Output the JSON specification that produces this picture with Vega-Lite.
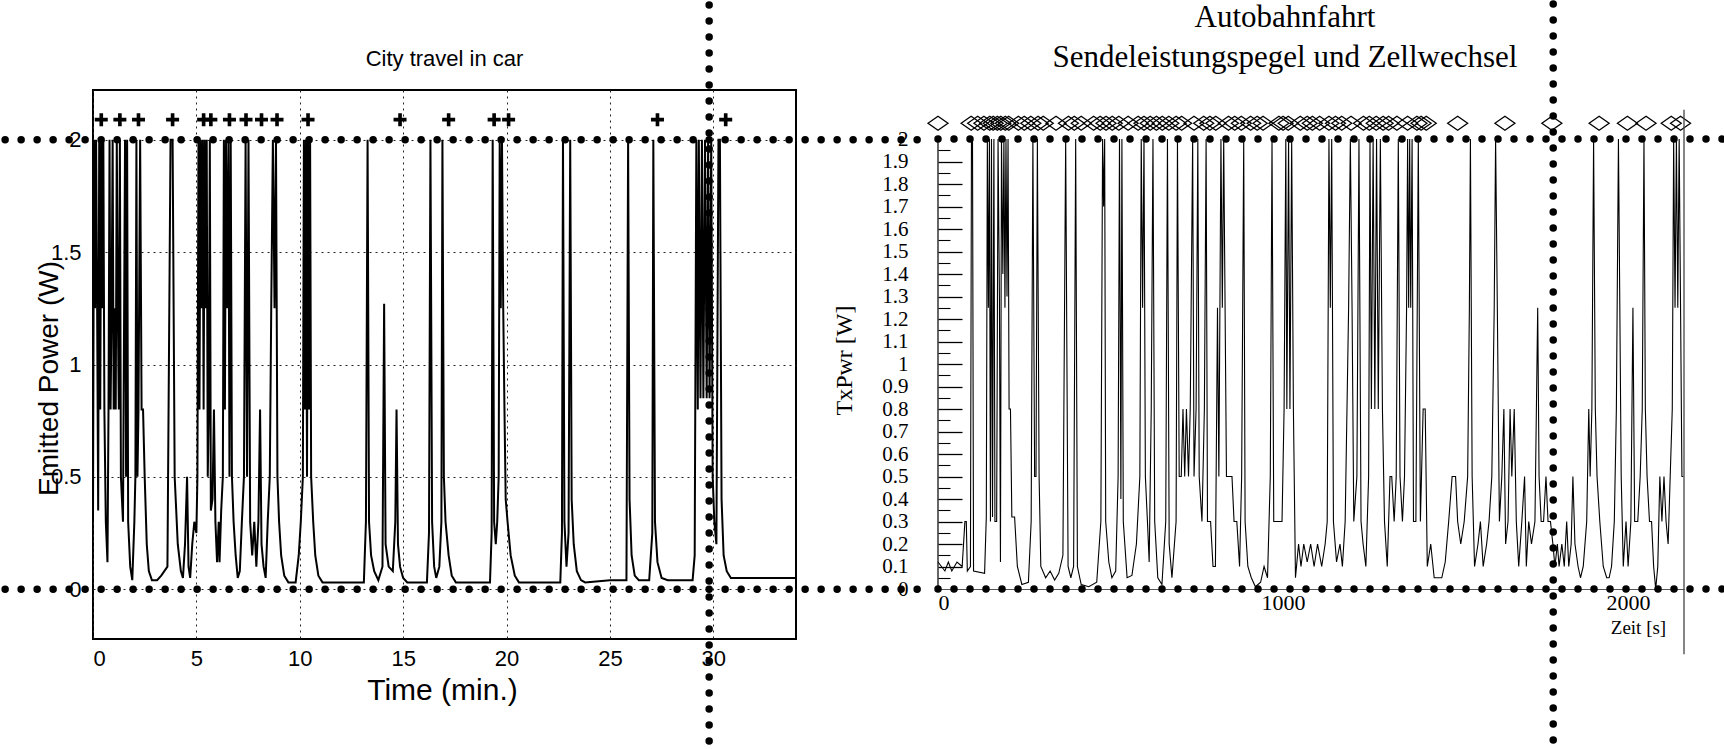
{
  "$schema": "https://vega.github.io/schema/vega-lite/v6.json",
  "padding": 0,
  "background": "white",
  "bounds": "flush",
  "spacing": 142,
  "config": {"view": {"stroke": null}, "font": "Liberation Sans"},
  "datasets": {
    "city": [
      {"t":0,"p":0.3},{"t":0.05,"p":2},{"t":0.1,"p":1.25},{"t":0.15,"p":2},{"t":0.2,"p":1.25},{"t":0.25,"p":0.35},{"t":0.3,"p":2},{"t":0.35,"p":0.8},{"t":0.4,"p":2},{"t":0.45,"p":1.25},{"t":0.5,"p":2},{"t":0.55,"p":0.8},{"t":0.62,"p":0.3},{"t":0.7,"p":0.12},{"t":0.75,"p":0.8},{"t":0.8,"p":2},{"t":0.85,"p":0.8},{"t":0.9,"p":1.25},{"t":0.95,"p":2},{"t":1.0,"p":0.8},{"t":1.05,"p":1.25},{"t":1.1,"p":0.8},{"t":1.15,"p":2},{"t":1.2,"p":1.25},{"t":1.25,"p":0.8},{"t":1.3,"p":2},{"t":1.35,"p":0.5},{"t":1.45,"p":0.3},{"t":1.55,"p":2},{"t":1.6,"p":0.5},{"t":1.65,"p":2},{"t":1.7,"p":0.3},{"t":1.8,"p":0.1},{"t":1.9,"p":0.04},{"t":2.0,"p":0.3},{"t":2.05,"p":0.5},{"t":2.1,"p":2},{"t":2.15,"p":0.5},{"t":2.2,"p":0.8},{"t":2.28,"p":2},{"t":2.35,"p":0.8},{"t":2.42,"p":0.8},{"t":2.5,"p":0.5},{"t":2.6,"p":0.2},{"t":2.7,"p":0.08},{"t":2.85,"p":0.04},{"t":3.1,"p":0.04},{"t":3.3,"p":0.06},{"t":3.6,"p":0.1},{"t":3.75,"p":2},{"t":3.85,"p":2},{"t":3.95,"p":0.5},{"t":4.1,"p":0.2},{"t":4.25,"p":0.08},{"t":4.35,"p":0.05},{"t":4.45,"p":0.2},{"t":4.55,"p":0.5},{"t":4.62,"p":0.1},{"t":4.7,"p":0.05},{"t":4.8,"p":0.2},{"t":4.9,"p":0.3},{"t":5.0,"p":0.25},{"t":5.05,"p":0.5},{"t":5.1,"p":2},{"t":5.15,"p":0.8},{"t":5.2,"p":2},{"t":5.25,"p":1.25},{"t":5.3,"p":2},{"t":5.35,"p":0.8},{"t":5.4,"p":2},{"t":5.45,"p":1.25},{"t":5.5,"p":2},{"t":5.55,"p":0.5},{"t":5.6,"p":0.8},{"t":5.65,"p":2},{"t":5.7,"p":0.35},{"t":5.78,"p":0.4},{"t":5.85,"p":0.8},{"t":5.92,"p":0.3},{"t":6.0,"p":0.12},{"t":6.08,"p":0.3},{"t":6.12,"p":0.12},{"t":6.2,"p":0.35},{"t":6.28,"p":0.5},{"t":6.33,"p":2},{"t":6.38,"p":0.8},{"t":6.43,"p":2},{"t":6.48,"p":1.25},{"t":6.55,"p":2},{"t":6.6,"p":0.5},{"t":6.66,"p":2},{"t":6.72,"p":0.5},{"t":6.8,"p":0.3},{"t":6.9,"p":0.15},{"t":7.0,"p":0.05},{"t":7.1,"p":0.08},{"t":7.2,"p":0.3},{"t":7.3,"p":0.5},{"t":7.38,"p":2},{"t":7.45,"p":0.5},{"t":7.52,"p":2},{"t":7.6,"p":0.3},{"t":7.7,"p":0.15},{"t":7.8,"p":0.3},{"t":7.9,"p":0.1},{"t":8.0,"p":0.3},{"t":8.08,"p":0.8},{"t":8.15,"p":0.2},{"t":8.25,"p":0.1},{"t":8.35,"p":0.05},{"t":8.45,"p":0.3},{"t":8.55,"p":0.5},{"t":8.62,"p":1.25},{"t":8.7,"p":2},{"t":8.78,"p":1.25},{"t":8.85,"p":2},{"t":8.92,"p":0.5},{"t":9.0,"p":0.3},{"t":9.1,"p":0.15},{"t":9.25,"p":0.06},{"t":9.45,"p":0.03},{"t":9.8,"p":0.03},{"t":9.95,"p":0.15},{"t":10.05,"p":0.3},{"t":10.15,"p":0.5},{"t":10.2,"p":2},{"t":10.25,"p":0.8},{"t":10.3,"p":2},{"t":10.35,"p":0.5},{"t":10.4,"p":2},{"t":10.45,"p":0.8},{"t":10.5,"p":2},{"t":10.55,"p":0.5},{"t":10.65,"p":0.3},{"t":10.75,"p":0.15},{"t":10.9,"p":0.06},{"t":11.1,"p":0.03},{"t":13.1,"p":0.03},{"t":13.2,"p":0.3},{"t":13.28,"p":2},{"t":13.35,"p":0.3},{"t":13.45,"p":0.15},{"t":13.6,"p":0.08},{"t":13.8,"p":0.04},{"t":14.0,"p":0.1},{"t":14.08,"p":1.27},{"t":14.15,"p":0.2},{"t":14.3,"p":0.1},{"t":14.5,"p":0.08},{"t":14.62,"p":0.3},{"t":14.68,"p":0.8},{"t":14.75,"p":0.2},{"t":14.85,"p":0.1},{"t":15.0,"p":0.05},{"t":15.2,"p":0.03},{"t":16.15,"p":0.03},{"t":16.25,"p":0.25},{"t":16.32,"p":2},{"t":16.4,"p":0.3},{"t":16.5,"p":0.1},{"t":16.6,"p":0.05},{"t":16.75,"p":0.1},{"t":16.85,"p":0.3},{"t":16.9,"p":2},{"t":16.97,"p":0.5},{"t":17.05,"p":0.3},{"t":17.2,"p":0.15},{"t":17.35,"p":0.06},{"t":17.55,"p":0.03},{"t":19.2,"p":0.03},{"t":19.28,"p":0.25},{"t":19.33,"p":2},{"t":19.4,"p":0.3},{"t":19.48,"p":0.2},{"t":19.55,"p":0.3},{"t":19.62,"p":0.5},{"t":19.67,"p":2},{"t":19.72,"p":1.25},{"t":19.78,"p":2},{"t":19.84,"p":1.25},{"t":19.9,"p":0.8},{"t":19.96,"p":0.4},{"t":20.05,"p":0.3},{"t":20.2,"p":0.15},{"t":20.4,"p":0.06},{"t":20.6,"p":0.03},{"t":22.6,"p":0.03},{"t":22.68,"p":0.25},{"t":22.73,"p":2},{"t":22.8,"p":0.3},{"t":22.9,"p":0.1},{"t":23.0,"p":0.25},{"t":23.08,"p":2},{"t":23.15,"p":0.4},{"t":23.25,"p":0.2},{"t":23.4,"p":0.08},{"t":23.6,"p":0.04},{"t":23.8,"p":0.03},{"t":25.0,"p":0.04},{"t":25.8,"p":0.04},{"t":25.88,"p":2},{"t":25.95,"p":0.4},{"t":26.05,"p":0.15},{"t":26.2,"p":0.06},{"t":26.4,"p":0.04},{"t":26.9,"p":0.04},{"t":27.05,"p":0.25},{"t":27.1,"p":2},{"t":27.18,"p":0.3},{"t":27.3,"p":0.12},{"t":27.5,"p":0.05},{"t":27.8,"p":0.04},{"t":29.0,"p":0.04},{"t":29.1,"p":0.15},{"t":29.18,"p":2},{"t":29.25,"p":0.8},{"t":29.3,"p":2},{"t":29.38,"p":0.85},{"t":29.45,"p":2},{"t":29.52,"p":0.85},{"t":29.6,"p":2},{"t":29.68,"p":0.85},{"t":29.75,"p":2},{"t":29.82,"p":0.85},{"t":29.9,"p":2},{"t":29.97,"p":0.5},{"t":30.05,"p":0.3},{"t":30.15,"p":0.2},{"t":30.25,"p":2},{"t":30.32,"p":2},{"t":30.4,"p":0.4},{"t":30.5,"p":0.15},{"t":30.65,"p":0.08},{"t":30.85,"p":0.05},{"t":31.2,"p":0.05},{"t":34,"p":0.05}
    ],
    "cityHandover": [
      {"t":0.4,"p":2.09},{"t":1.3,"p":2.09},{"t":2.2,"p":2.09},{"t":3.85,"p":2.09},{"t":5.35,"p":2.09},{"t":5.7,"p":2.09},{"t":6.6,"p":2.09},{"t":7.4,"p":2.09},{"t":8.15,"p":2.09},{"t":8.9,"p":2.09},{"t":10.4,"p":2.09},{"t":14.85,"p":2.09},{"t":17.2,"p":2.09},{"t":19.4,"p":2.09},{"t":20.1,"p":2.09},{"t":27.3,"p":2.09},{"t":30.6,"p":2.09}
    ],
    "cityGuidesH": [{"level":2,"from":-4.25,"to":40.0},{"level":0,"from":-4.25,"to":40.0}],
    "cityGuidesV": [{"t":29.8,"top":2.6,"bottom":-0.69}],
    "autobahn": [
      {"s":0,"p":0.12},{"s":20,"p":0.08},{"s":30,"p":0.12},{"s":40,"p":0.08},{"s":55,"p":0.12},{"s":70,"p":0.1},{"s":78,"p":0.3},{"s":82,"p":0.3},{"s":85,"p":0.08},{"s":94,"p":0.1},{"s":97,"p":2},{"s":100,"p":2},{"s":103,"p":0.08},{"s":135,"p":0.07},{"s":140,"p":0.32},{"s":143,"p":2},{"s":146,"p":1.25},{"s":149,"p":2},{"s":152,"p":0.3},{"s":155,"p":2},{"s":158,"p":0.32},{"s":162,"p":2},{"s":165,"p":0.3},{"s":170,"p":0.3},{"s":174,"p":2},{"s":178,"p":1.3},{"s":181,"p":0.12},{"s":184,"p":2},{"s":188,"p":1.4},{"s":191,"p":2},{"s":194,"p":1.25},{"s":197,"p":2},{"s":200,"p":1.3},{"s":203,"p":2},{"s":206,"p":0.8},{"s":210,"p":0.8},{"s":214,"p":0.32},{"s":222,"p":0.32},{"s":230,"p":0.1},{"s":243,"p":0.02},{"s":262,"p":0.03},{"s":270,"p":0.3},{"s":275,"p":2},{"s":280,"p":0.5},{"s":284,"p":0.5},{"s":288,"p":2},{"s":293,"p":0.5},{"s":298,"p":0.1},{"s":312,"p":0.05},{"s":325,"p":0.08},{"s":338,"p":0.04},{"s":350,"p":0.07},{"s":362,"p":0.15},{"s":370,"p":2},{"s":377,"p":0.1},{"s":385,"p":0.05},{"s":393,"p":0.1},{"s":399,"p":2},{"s":404,"p":0.1},{"s":415,"p":0.02},{"s":437,"p":0.01},{"s":460,"p":0.03},{"s":472,"p":0.3},{"s":477,"p":2},{"s":480,"p":1.7},{"s":483,"p":2},{"s":486,"p":0.3},{"s":495,"p":0.12},{"s":504,"p":0.05},{"s":515,"p":0.08},{"s":522,"p":0.5},{"s":526,"p":2},{"s":530,"p":0.4},{"s":533,"p":2},{"s":537,"p":0.3},{"s":548,"p":0.05},{"s":562,"p":0.06},{"s":575,"p":0.2},{"s":585,"p":0.5},{"s":589,"p":2},{"s":593,"p":1.25},{"s":597,"p":2},{"s":601,"p":0.5},{"s":607,"p":0.3},{"s":612,"p":0.12},{"s":618,"p":0.8},{"s":623,"p":2},{"s":628,"p":0.3},{"s":637,"p":0.05},{"s":649,"p":0.02},{"s":660,"p":0.3},{"s":665,"p":2},{"s":670,"p":0.2},{"s":678,"p":0.05},{"s":690,"p":0.3},{"s":694,"p":2},{"s":699,"p":0.5},{"s":705,"p":0.5},{"s":710,"p":0.8},{"s":715,"p":0.5},{"s":720,"p":0.8},{"s":726,"p":0.5},{"s":731,"p":0.8},{"s":738,"p":2},{"s":742,"p":0.5},{"s":748,"p":0.8},{"s":753,"p":2},{"s":757,"p":0.5},{"s":765,"p":0.3},{"s":772,"p":0.8},{"s":777,"p":2},{"s":781,"p":0.3},{"s":790,"p":0.3},{"s":797,"p":0.1},{"s":804,"p":0.1},{"s":810,"p":1.25},{"s":814,"p":0.5},{"s":820,"p":2},{"s":824,"p":1.25},{"s":828,"p":2},{"s":832,"p":1.25},{"s":836,"p":0.5},{"s":845,"p":0.5},{"s":852,"p":0.5},{"s":858,"p":0.3},{"s":866,"p":0.3},{"s":874,"p":0.1},{"s":880,"p":0.5},{"s":886,"p":2},{"s":890,"p":0.3},{"s":898,"p":0.1},{"s":908,"p":0.05},{"s":920,"p":0.01},{"s":935,"p":0.03},{"s":945,"p":0.1},{"s":955,"p":0.05},{"s":963,"p":0.5},{"s":968,"p":2},{"s":973,"p":0.3},{"s":985,"p":0.3},{"s":997,"p":0.3},{"s":1003,"p":0.8},{"s":1008,"p":2},{"s":1011,"p":0.8},{"s":1016,"p":2},{"s":1020,"p":0.8},{"s":1025,"p":2},{"s":1030,"p":0.8},{"s":1036,"p":0.05},{"s":1045,"p":0.2},{"s":1052,"p":0.1},{"s":1060,"p":0.2},{"s":1070,"p":0.12},{"s":1080,"p":0.2},{"s":1090,"p":0.1},{"s":1100,"p":0.2},{"s":1112,"p":0.1},{"s":1122,"p":0.2},{"s":1128,"p":0.3},{"s":1133,"p":2},{"s":1137,"p":1.25},{"s":1141,"p":2},{"s":1146,"p":0.3},{"s":1155,"p":0.12},{"s":1165,"p":0.2},{"s":1172,"p":0.1},{"s":1180,"p":0.3},{"s":1190,"p":1.25},{"s":1195,"p":2},{"s":1200,"p":1.25},{"s":1205,"p":0.3},{"s":1214,"p":0.5},{"s":1220,"p":2},{"s":1226,"p":0.3},{"s":1232,"p":0.2},{"s":1240,"p":0.1},{"s":1248,"p":0.5},{"s":1252,"p":2},{"s":1256,"p":0.8},{"s":1261,"p":2},{"s":1266,"p":0.8},{"s":1271,"p":2},{"s":1276,"p":0.8},{"s":1282,"p":2},{"s":1288,"p":0.8},{"s":1294,"p":0.3},{"s":1302,"p":0.1},{"s":1310,"p":0.5},{"s":1315,"p":0.5},{"s":1322,"p":0.3},{"s":1328,"p":0.5},{"s":1334,"p":2},{"s":1339,"p":0.5},{"s":1346,"p":0.3},{"s":1352,"p":0.5},{"s":1358,"p":1.25},{"s":1361,"p":2},{"s":1364,"p":1.25},{"s":1367,"p":2},{"s":1370,"p":1.25},{"s":1374,"p":2},{"s":1378,"p":0.3},{"s":1385,"p":0.3},{"s":1392,"p":2},{"s":1398,"p":0.3},{"s":1406,"p":0.8},{"s":1412,"p":0.8},{"s":1418,"p":0.1},{"s":1428,"p":0.2},{"s":1438,"p":0.05},{"s":1460,"p":0.05},{"s":1470,"p":0.12},{"s":1480,"p":0.3},{"s":1490,"p":0.5},{"s":1500,"p":0.5},{"s":1506,"p":0.3},{"s":1515,"p":0.2},{"s":1525,"p":0.3},{"s":1535,"p":0.5},{"s":1540,"p":1.25},{"s":1543,"p":2},{"s":1548,"p":0.5},{"s":1555,"p":0.1},{"s":1565,"p":0.2},{"s":1572,"p":0.3},{"s":1580,"p":0.1},{"s":1590,"p":0.2},{"s":1597,"p":0.3},{"s":1605,"p":0.5},{"s":1612,"p":1.25},{"s":1616,"p":2},{"s":1621,"p":1.25},{"s":1627,"p":0.3},{"s":1634,"p":0.5},{"s":1640,"p":0.8},{"s":1645,"p":0.2},{"s":1652,"p":0.3},{"s":1658,"p":0.8},{"s":1663,"p":0.5},{"s":1670,"p":0.8},{"s":1676,"p":0.3},{"s":1683,"p":0.1},{"s":1692,"p":0.3},{"s":1700,"p":0.5},{"s":1705,"p":0.1},{"s":1712,"p":0.3},{"s":1720,"p":0.2},{"s":1730,"p":0.3},{"s":1738,"p":1.25},{"s":1742,"p":0.5},{"s":1748,"p":0.3},{"s":1755,"p":0.3},{"s":1762,"p":0.5},{"s":1768,"p":0.3},{"s":1775,"p":0.3},{"s":1782,"p":0.2},{"s":1788,"p":0.1},{"s":1795,"p":0.2},{"s":1800,"p":0.1},{"s":1808,"p":0.2},{"s":1815,"p":0.1},{"s":1822,"p":0.3},{"s":1828,"p":0.1},{"s":1835,"p":0.2},{"s":1840,"p":0.5},{"s":1846,"p":0.2},{"s":1855,"p":0.1},{"s":1862,"p":0.05},{"s":1870,"p":0.1},{"s":1880,"p":0.3},{"s":1886,"p":0.8},{"s":1890,"p":0.5},{"s":1895,"p":0.8},{"s":1900,"p":2},{"s":1905,"p":0.8},{"s":1910,"p":0.5},{"s":1918,"p":0.3},{"s":1928,"p":0.1},{"s":1938,"p":0.05},{"s":1945,"p":0.05},{"s":1952,"p":0.1},{"s":1960,"p":0.3},{"s":1966,"p":0.8},{"s":1972,"p":2},{"s":1976,"p":1.25},{"s":1980,"p":0.5},{"s":1986,"p":0.1},{"s":1994,"p":0.3},{"s":2000,"p":0.1},{"s":2008,"p":0.3},{"s":2014,"p":1.25},{"s":2019,"p":0.3},{"s":2028,"p":0.3},{"s":2035,"p":0.5},{"s":2041,"p":0.8},{"s":2046,"p":2},{"s":2050,"p":0.8},{"s":2055,"p":0.5},{"s":2062,"p":0.3},{"s":2068,"p":0.3},{"s":2074,"p":0.1},{"s":2080,"p":0.0},{"s":2086,"p":0.1},{"s":2092,"p":0.5},{"s":2098,"p":0.3},{"s":2104,"p":0.5},{"s":2110,"p":0.3},{"s":2116,"p":0.2},{"s":2122,"p":0.5},{"s":2128,"p":0.8},{"s":2132,"p":2},{"s":2136,"p":1.25},{"s":2140,"p":2},{"s":2144,"p":1.25},{"s":2148,"p":2},{"s":2152,"p":1.25},{"s":2156,"p":0.5},{"s":2160,"p":0.5}
    ],
    "cellChange": [
      {"s":0,"p":2.07},{"s":96,"p":2.07},{"s":115,"p":2.07},{"s":133,"p":2.07},{"s":150,"p":2.07},{"s":160,"p":2.07},{"s":172,"p":2.07},{"s":182,"p":2.07},{"s":195,"p":2.07},{"s":205,"p":2.07},{"s":233,"p":2.07},{"s":250,"p":2.07},{"s":269,"p":2.07},{"s":290,"p":2.07},{"s":305,"p":2.07},{"s":342,"p":2.07},{"s":378,"p":2.07},{"s":395,"p":2.07},{"s":415,"p":2.07},{"s":451,"p":2.07},{"s":470,"p":2.07},{"s":487,"p":2.07},{"s":505,"p":2.07},{"s":524,"p":2.07},{"s":551,"p":2.07},{"s":580,"p":2.07},{"s":597,"p":2.07},{"s":615,"p":2.07},{"s":633,"p":2.07},{"s":650,"p":2.07},{"s":669,"p":2.07},{"s":690,"p":2.07},{"s":706,"p":2.07},{"s":742,"p":2.07},{"s":770,"p":2.07},{"s":788,"p":2.07},{"s":805,"p":2.07},{"s":842,"p":2.07},{"s":860,"p":2.07},{"s":879,"p":2.07},{"s":906,"p":2.07},{"s":925,"p":2.07},{"s":942,"p":2.07},{"s":988,"p":2.07},{"s":1000,"p":2.07},{"s":1015,"p":2.07},{"s":1050,"p":2.07},{"s":1070,"p":2.07},{"s":1085,"p":2.07},{"s":1106,"p":2.07},{"s":1133,"p":2.07},{"s":1152,"p":2.07},{"s":1170,"p":2.07},{"s":1197,"p":2.07},{"s":1233,"p":2.07},{"s":1250,"p":2.07},{"s":1270,"p":2.07},{"s":1290,"p":2.07},{"s":1306,"p":2.07},{"s":1330,"p":2.07},{"s":1361,"p":2.07},{"s":1388,"p":2.07},{"s":1400,"p":2.07},{"s":1415,"p":2.07},{"s":1506,"p":2.07},{"s":1643,"p":2.07},{"s":1779,"p":2.07},{"s":1916,"p":2.07},{"s":1998,"p":2.07},{"s":2052,"p":2.07},{"s":2125,"p":2.07},{"s":2152,"p":2.07}
    ],
    "autoGuidesH": [{"level":2,"from":0,"to":2277},{"level":0,"from":0,"to":2277}],
    "autoGuidesV": [{"s":1783,"top":2.6,"bottom":-0.69}],
    "autoEdge": [{"s":2162,"top":2.13,"bottom":-0.29}]
  },
  "hconcat": [
    {
      "width": 703,
      "height": 549,
      "view": {"stroke": "black", "strokeWidth": 2},
      "title": {"text": "City travel in car", "frame": "group", "anchor": "middle", "fontSize": 22, "fontWeight": "normal", "font": "Liberation Sans", "color": "black", "offset": -70},
      "layer": [
        {
          "data": {"name": "city"},
          "mark": {"type": "line", "color": "black", "strokeWidth": 2},
          "encoding": {
            "x": {"field": "t", "type": "quantitative", "scale": {"domain": [0, 34], "nice": false, "zero": false},
              "axis": {"values": [0,5,10,15,20,25,30], "title": "Time (min.)", "titleFontSize": 30, "titleFontWeight": "normal", "titleColor": "black", "titleX": 349, "titleY": 51, "titleBaseline": "middle", "titleAlign": "center", "labelFontSize": 22, "labelColor": "black", "labelPadding": 9, "ticks": false, "domain": false, "grid": true, "gridColor": "#222", "gridDash": [2, 4], "gridWidth": 1}},
            "y": {"field": "p", "type": "quantitative", "scale": {"domain": [-0.222, 2.222], "nice": false, "zero": false},
              "axis": {"values": [0, 0.5, 1, 1.5, 2], "format": "~g", "title": "Emitted Power (W)", "titleFontSize": 28, "titleFontWeight": "normal", "titleColor": "black", "titleX": -44, "titleY": 288, "titleAngle": -90, "titleAlign": "center", "titleBaseline": "middle", "labelFontSize": 22, "labelColor": "black", "labelPadding": 12, "ticks": false, "domain": false, "grid": true, "gridColor": "#222", "gridDash": [2, 4], "gridWidth": 1}}
          }
        },
        {
          "data": {"name": "cityHandover"},
          "mark": {"type": "point", "shape": "M-1,-0.28H-0.28V-1H0.28V-0.28H1V0.28H0.28V1H-0.28V0.28H-1Z", "filled": true, "color": "black", "size": 169, "opacity": 1},
          "encoding": {"x": {"field": "t", "type": "quantitative"}, "y": {"field": "p", "type": "quantitative"}}
        },
        {
          "data": {"name": "cityGuidesH"},
          "mark": {"type": "rule", "color": "black", "strokeWidth": 7.5, "strokeDash": [0, 16], "strokeCap": "round", "clip": false},
          "encoding": {"x": {"field": "from", "type": "quantitative"}, "x2": {"field": "to"}, "y": {"field": "level", "type": "quantitative"}}
        },
        {
          "data": {"name": "cityGuidesV"},
          "mark": {"type": "rule", "color": "black", "strokeWidth": 7.5, "strokeDash": [0, 16], "strokeCap": "round", "clip": false},
          "encoding": {"x": {"field": "t", "type": "quantitative"}, "y": {"field": "top", "type": "quantitative"}, "y2": {"field": "bottom"}}
        }
      ]
    },
    {
      "width": 746,
      "height": 499,
      "title": {"text": ["Autobahnfahrt", "Sendeleistungspegel und Zellwechsel"], "frame": "group", "anchor": "middle", "dx": -26, "font": "Liberation Serif", "fontSize": 31, "fontWeight": "normal", "color": "black", "lineHeight": 40, "offset": -74},
      "resolve": {"axis": {"y": "independent"}},
      "layer": [
        {
          "data": {"name": "autobahn"},
          "mark": {"type": "line", "color": "black", "strokeWidth": 1.1},
          "encoding": {
            "x": {"field": "s", "type": "quantitative", "scale": {"domain": [0, 2162], "nice": false, "zero": false},
              "axis": {"values": [0, 1000, 2000], "format": "d", "title": "Zeit [s]", "titleFont": "Liberation Serif", "titleFontSize": 19, "titleFontWeight": "normal", "titleColor": "black", "titleX": 700, "titleY": 38, "titleAlign": "center", "titleBaseline": "middle", "labelFont": "Liberation Serif", "labelFontSize": 22, "labelColor": "black", "labelPadding": 3, "ticks": false, "domain": true, "domainColor": "#555", "domainWidth": 1, "grid": false}},
            "y": {"field": "p", "type": "quantitative", "scale": {"domain": [0, 2.218], "nice": false, "zero": false},
              "axis": {"orient": "left", "offset": 28, "values": [0, 0.1, 0.2, 0.3, 0.4, 0.5, 0.6, 0.7, 0.8, 0.9, 1, 1.1, 1.2, 1.3, 1.4, 1.5, 1.6, 1.7, 1.8, 1.9, 2], "format": ".1~f", "title": "TxPwr [W]", "titleFont": "Liberation Serif", "titleFontSize": 24, "titleFontWeight": "normal", "titleColor": "black", "titleX": -66, "titleY": 270, "titleAngle": -90, "titleAlign": "center", "titleBaseline": "middle", "labelFont": "Liberation Serif", "labelFontSize": 21, "labelColor": "black", "labelPadding": 2, "ticks": false, "domain": false, "grid": false}}
          }
        },
        {
          "data": {"name": "cellChange"},
          "mark": {"type": "point", "shape": "M-1,0L0,-0.7L1,0L0,0.7Z", "filled": false, "color": "black", "strokeWidth": 1.3, "size": 400, "opacity": 1},
          "encoding": {
            "x": {"field": "s", "type": "quantitative"},
            "y": {"field": "p", "type": "quantitative",
              "axis": {"orient": "right", "offset": -746, "values": [0.1, 0.2, 0.3, 0.4, 0.5, 0.6, 0.7, 0.8, 0.9, 1, 1.1, 1.2, 1.3, 1.4, 1.5, 1.6, 1.7, 1.8, 1.9], "labels": false, "title": null, "domain": false, "grid": false, "ticks": true, "tickSize": 24, "tickColor": "black", "tickWidth": 1.3}}
          }
        },
        {
          "data": {"values": [{"a": 0, "lo": 0, "hi": 2}]},
          "mark": {"type": "rule", "color": "black", "strokeWidth": 1.2},
          "encoding": {
            "x": {"field": "a", "type": "quantitative"},
            "y": {"field": "lo", "type": "quantitative",
              "axis": {"orient": "right", "offset": -746, "values": [0.05, 0.15, 0.25, 0.35, 0.45, 0.55, 0.65, 0.75, 0.85, 0.95, 1.05, 1.15, 1.25, 1.35, 1.45, 1.55, 1.65, 1.75, 1.85, 1.95], "labels": false, "title": null, "domain": false, "grid": false, "ticks": true, "tickSize": 12, "tickColor": "black", "tickWidth": 1.1}},
            "y2": {"field": "hi"}
          }
        },
        {
          "data": {"name": "autoEdge"},
          "mark": {"type": "rule", "color": "#444", "strokeWidth": 1.3, "clip": false},
          "encoding": {"x": {"field": "s", "type": "quantitative"}, "y": {"field": "top", "type": "quantitative", "axis": null}, "y2": {"field": "bottom"}}
        },
        {
          "data": {"name": "autoGuidesH"},
          "mark": {"type": "rule", "color": "black", "strokeWidth": 7.5, "strokeDash": [0, 16], "strokeCap": "round", "clip": false},
          "encoding": {"x": {"field": "from", "type": "quantitative"}, "x2": {"field": "to"}, "y": {"field": "level", "type": "quantitative", "axis": null}}
        },
        {
          "data": {"name": "autoGuidesV"},
          "mark": {"type": "rule", "color": "black", "strokeWidth": 7.5, "strokeDash": [0, 16], "strokeCap": "round", "clip": false},
          "encoding": {"x": {"field": "s", "type": "quantitative"}, "y": {"field": "top", "type": "quantitative", "axis": null}, "y2": {"field": "bottom"}}
        }
      ]
    }
  ]
}
